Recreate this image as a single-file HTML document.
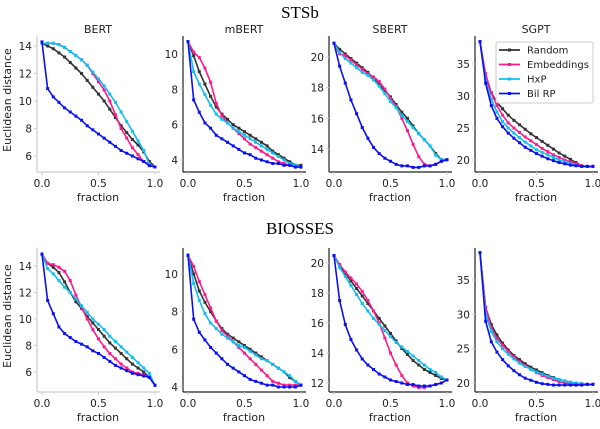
<!DOCTYPE html>
<html><head><meta charset="utf-8"><style>
body{margin:0;background:#fff;width:600px;height:424px;overflow:hidden}
svg text{font-family:"DejaVu Sans","Liberation Sans",sans-serif}
</style></head><body>
<svg id="chart" width="600" height="424" xmlns="http://www.w3.org/2000/svg"></svg>
<script>
const fractions=[0,0.05,0.1,0.15,0.2,0.25,0.3,0.35,0.4,0.45,0.5,0.55,0.6,0.65,0.7,0.75,0.8,0.85,0.9,0.95,1];
const seriesNames=["Random","Embeddings","HxP","Bil RP"];
const datasetTitles=["STSb","BIOSSES"];
const modelNames=["BERT","mBERT","SBERT","SGPT"];
const stsbBertRandom=[14.2,14.0,13.8,13.5,13.2,12.8,12.4,12.0,11.5,11.0,10.5,10.0,9.4,8.8,8.2,7.7,7.2,6.8,6.3,5.6,5.2];
const stsbBertEmb=[14.2,14.2,14.2,14.1,13.9,13.6,13.3,13.0,12.6,12.0,11.4,10.8,10.0,9.0,8.0,7.3,6.6,6.1,5.6,5.4,5.2];
const stsbBertHxp=[14.2,14.2,14.2,14.1,13.9,13.6,13.3,13.0,12.6,12.1,11.6,11.1,10.5,9.9,9.2,8.5,7.8,7.1,6.4,5.4,5.2];
const stsbBertBil=[14.3,10.9,10.3,9.9,9.5,9.2,8.9,8.6,8.2,7.9,7.6,7.3,7.0,6.7,6.4,6.2,6.0,5.8,5.6,5.3,5.2];
const stsbMbertRandom=[10.7,9.9,9.0,8.3,7.6,7.0,6.6,6.3,6.0,5.8,5.6,5.4,5.2,5.0,4.8,4.5,4.3,4.1,3.9,3.7,3.7];
const stsbMbertEmb=[10.7,10.1,9.8,9.2,8.4,7.2,6.5,6.1,5.8,5.5,5.2,4.9,4.7,4.5,4.3,4.1,3.9,3.8,3.7,3.7,3.6];
const stsbMbertHxp=[10.7,9.0,8.3,7.7,7.1,6.6,6.3,6.1,5.8,5.6,5.4,5.2,5.0,4.8,4.6,4.4,4.2,4.0,3.8,3.7,3.6];
const stsbMbertBil=[10.7,7.4,6.7,6.1,5.8,5.4,5.2,5.0,4.8,4.6,4.4,4.3,4.1,4.0,3.9,3.8,3.8,3.7,3.7,3.6,3.6];
const stsbSbertRandom=[20.9,20.5,20.2,19.9,19.6,19.3,19.0,18.6,18.2,17.8,17.4,16.9,16.4,16.0,15.5,15.0,14.6,14.2,13.7,13.3,13.3];
const stsbSbertEmb=[20.9,20.2,20.1,19.8,19.5,19.2,18.9,18.7,18.4,17.9,17.3,16.8,16.0,15.2,14.3,13.5,13.0,12.9,13.0,13.2,13.3];
const stsbSbertHxp=[20.9,20.3,19.9,19.6,19.3,19.0,18.8,18.5,18.1,17.6,17.1,16.7,16.2,15.8,15.4,15.0,14.6,14.2,13.6,13.3,13.3];
const stsbSbertBil=[20.9,19.4,18.3,17.2,16.3,15.4,14.7,14.1,13.7,13.4,13.2,13.0,12.9,12.9,12.8,12.8,12.9,12.9,13.0,13.2,13.3];
const stsbSgptRandom=[38.5,33,30.5,29.0,28.0,27.0,26.2,25.5,24.8,24.1,23.5,22.9,22.3,21.7,21.1,20.6,20.1,19.6,19.1,19,19];
const stsbSgptEmb=[38.5,33.5,30.5,28.5,27.0,25.8,25.0,24.3,23.6,23.0,22.4,21.8,21.3,20.8,20.4,20.0,19.7,19.4,19.1,19,19];
const stsbSgptHxp=[38.5,32.5,29.5,27.5,26.0,25.0,24.2,23.5,22.8,22.2,21.6,21.2,20.8,20.4,20.0,19.7,19.4,19.2,19.0,19,19];
const stsbSgptBil=[38.5,32,28.5,26.5,25.2,24.2,23.4,22.7,22.0,21.5,21.0,20.6,20.2,19.9,19.6,19.4,19.2,19.1,19.0,19,19];
const biosBertRandom=[14.9,14.2,13.9,13.5,12.8,12.0,11.3,10.8,10.2,9.7,9.2,8.7,8.2,7.8,7.4,7.0,6.6,6.3,6.0,5.6,5.0];
const biosBertEmb=[14.9,14.2,14.1,13.9,13.6,12.9,11.8,10.9,10.0,9.2,8.5,7.9,7.4,7.0,6.6,6.3,6.0,5.9,5.8,5.6,5.0];
const biosBertHxp=[14.9,13.8,13.4,12.9,12.4,12.0,11.5,11.0,10.5,10.0,9.6,9.2,8.7,8.3,7.9,7.5,7.1,6.7,6.3,5.9,5.0];
const biosBertBil=[14.9,11.4,10.4,9.4,8.9,8.6,8.3,8.1,7.9,7.6,7.4,7.1,6.8,6.5,6.3,6.1,5.9,5.8,5.7,5.6,5.0];
const biosMbertRandom=[11.0,10.0,9.1,8.5,8.0,7.5,7.1,6.8,6.6,6.4,6.2,6.0,5.8,5.6,5.4,5.2,5.0,4.8,4.5,4.3,4.1];
const biosMbertEmb=[11.0,10.4,9.6,8.9,8.2,7.5,7.0,6.7,6.4,6.1,5.8,5.5,5.2,4.9,4.6,4.3,4.2,4.1,4.1,4.1,4.1];
const biosMbertHxp=[11.0,9.5,8.6,7.9,7.4,7.1,6.8,6.6,6.4,6.2,6.1,5.9,5.7,5.5,5.4,5.2,5.0,4.8,4.6,4.3,4.1];
const biosMbertBil=[11.0,7.6,6.9,6.5,6.1,5.8,5.5,5.2,5.0,4.8,4.6,4.4,4.3,4.2,4.1,4.1,4.0,4.0,4.0,4.0,4.1];
const biosSbertRandom=[20.5,19.8,19.3,18.8,18.3,17.8,17.3,16.8,16.3,15.8,15.3,14.8,14.3,13.9,13.5,13.2,12.9,12.7,12.5,12.3,12.2];
const biosSbertEmb=[20.5,19.9,19.4,19.0,18.6,18.1,17.5,16.8,16.0,15.0,14.0,13.2,12.5,12.0,11.8,11.7,11.7,11.8,11.9,12.0,12.2];
const biosSbertHxp=[20.5,19.7,19.1,18.5,17.9,17.3,16.8,16.3,15.9,15.5,15.1,14.7,14.4,14.1,13.8,13.5,13.2,12.9,12.7,12.4,12.2];
const biosSbertBil=[20.5,17.5,15.9,14.9,14.2,13.6,13.2,12.9,12.6,12.4,12.2,12.1,12.0,11.9,11.9,11.8,11.8,11.8,11.9,12.0,12.2];
const biosSgptRandom=[39,31,28.5,27,25.8,24.8,24.0,23.4,22.8,22.3,21.9,21.5,21.1,20.8,20.5,20.3,20.1,20.0,19.9,19.8,19.8];
const biosSgptEmb=[39,31,28,26.5,25.5,24.6,23.8,23.1,22.5,22.0,21.5,21.1,20.8,20.5,20.2,20.0,19.9,19.8,19.8,19.8,19.8];
const biosSgptHxp=[39,30,27.5,26,25,24.2,23.5,22.9,22.4,22.0,21.6,21.3,21.0,20.7,20.5,20.3,20.1,20.0,19.9,19.8,19.8];
const biosSgptBil=[39,29,26,24.5,23.4,22.5,21.8,21.2,20.7,20.4,20.1,19.9,19.8,19.7,19.7,19.7,19.7,19.7,19.7,19.8,19.8];
const xTicks=[0,0.5,1];
const xTickLabels=["0.0","0.5","1.0"];
const yTicksTop=[[6,8,10,12,14],[4,6,8,10],[14,16,18,20],[20,25,30,35]];
const yTicksBottom=[[6,8,10,12,14],[4,6,8,10],[12,14,16,18,20],[20,25,30,35]];

const colors=["#333333","#ff1a8c","#10bff0","#0a10f0"];
const panelData=[
 [[stsbBertRandom,stsbBertEmb,stsbBertHxp,stsbBertBil],[stsbMbertRandom,stsbMbertEmb,stsbMbertHxp,stsbMbertBil],[stsbSbertRandom,stsbSbertEmb,stsbSbertHxp,stsbSbertBil],[stsbSgptRandom,stsbSgptEmb,stsbSgptHxp,stsbSgptBil]],
 [[biosBertRandom,biosBertEmb,biosBertHxp,biosBertBil],[biosMbertRandom,biosMbertEmb,biosMbertHxp,biosMbertBil],[biosSbertRandom,biosSbertEmb,biosSbertHxp,biosSbertBil],[biosSgptRandom,biosSgptEmb,biosSgptHxp,biosSgptBil]]];
// axis calibration: [value, pixel] pairs per panel
const cal=[[[14,46,6,156],[10,54,4,160],[20,57,14,149],[35,64,20,160]],
           [[14,266,6,372],[10,274,4,387],[20,263,12,383],[35,280,20,383]]];
const x0s=[42,188,334,480];
const rowTop=[36,248], rowBot=[172,392];
const svg=document.getElementById('chart');
const NS="http://www.w3.org/2000/svg";
function mk(tag,attrs,parent){const e=document.createElementNS(NS,tag);for(const k in attrs)e.setAttribute(k,attrs[k]);(parent||svg).appendChild(e);return e;}
function txt(s,attrs,parent){const e=mk('text',attrs,parent);e.textContent=s;return e;}

datasetTitles.forEach((t,r)=>{
  const e=txt(t,{x:300,y:r?234:18,'text-anchor':'middle','font-size':17,fill:'#000',style:'font-family:"Liberation Serif",serif'});
  
  
});
for(let r=0;r<2;r++){
  const yl=txt("Euclidean distance",{x:0,y:0,'text-anchor':'middle','font-size':11,fill:'#222',transform:`translate(11,${(rowTop[r]+rowBot[r])/2-4}) rotate(-90)`});
  
  
  for(let c=0;c<4;c++){
    const g=mk('g',{});
    
    
    const x0=x0s[c];
    const xs=v=>x0+v*113;
    const [v1,p1,v2,p2]=cal[r][c];
    const ys=v=>p1+(v-v1)*(p2-p1)/(v2-v1);
    const left=x0-5,right=x0+118;
    const spineCol=c===0?'#cccccc':'#222';
    mk('line',{x1:left,y1:rowTop[r],x2:left,y2:rowBot[r],stroke:spineCol,'stroke-width':1.2},g);
    mk('line',{x1:left,y1:rowBot[r],x2:right,y2:rowBot[r],stroke:spineCol,'stroke-width':1.2},g);
    xTicks.forEach((t,i)=>{
      mk('line',{x1:xs(t),y1:rowBot[r],x2:xs(t),y2:rowBot[r]+3,stroke:'#ccc'},g);
      txt(xTickLabels[i],{x:xs(t),y:rowBot[r]+15,'text-anchor':'middle','font-size':10.5,fill:'#222'},g);
    });
    txt("fraction",{x:x0+56,y:rowBot[r]+29,'text-anchor':'middle','font-size':11,fill:'#222'},g);
    const yt=r?yTicksBottom[c]:yTicksTop[c];
    yt.forEach(t=>{
      mk('line',{x1:left-3,y1:ys(t),x2:left,y2:ys(t),stroke:'#ccc'},g);
      txt(String(t),{x:left-5,y:ys(t)+4,'text-anchor':'end','font-size':10.5,fill:'#222'},g);
    });
    if(r===0) txt(modelNames[c],{x:x0+56,y:33,'text-anchor':'middle','font-size':11,fill:'#222'},g);
    panelData[r][c].forEach((vals,s)=>{
      const pts=vals.map((v,i)=>xs(fractions[i]).toFixed(1)+','+ys(v).toFixed(1)).join(' ');
      const pl=mk('polyline',{points:pts,fill:'none',stroke:colors[s],'stroke-width':1.6},g);
      
      
      vals.forEach((v,i)=>{
        const m=mk('rect',{x:xs(fractions[i])-1.5,y:ys(v)-1.5,width:3,height:3,fill:colors[s]},g);
        
        
      });
    });
  }
}
// legend
const lg=mk('g',{});


mk('rect',{x:496,y:42,width:97,height:61,fill:'#fff','fill-opacity':0.85,stroke:'#ccc',rx:2},lg);
seriesNames.forEach((n,i)=>{
  const y=50+i*14.5;
  const e=mk('g',{},lg);
  
  
  mk('line',{x1:499,y1:y,x2:520,y2:y,stroke:colors[i],'stroke-width':1.8},e);
  mk('rect',{x:508,y:y-1.5,width:3,height:3,fill:colors[i]},e);
  txt(n,{x:527,y:y+3.5,'font-size':10,fill:'#222'},e);
});
</script>
</body></html>
